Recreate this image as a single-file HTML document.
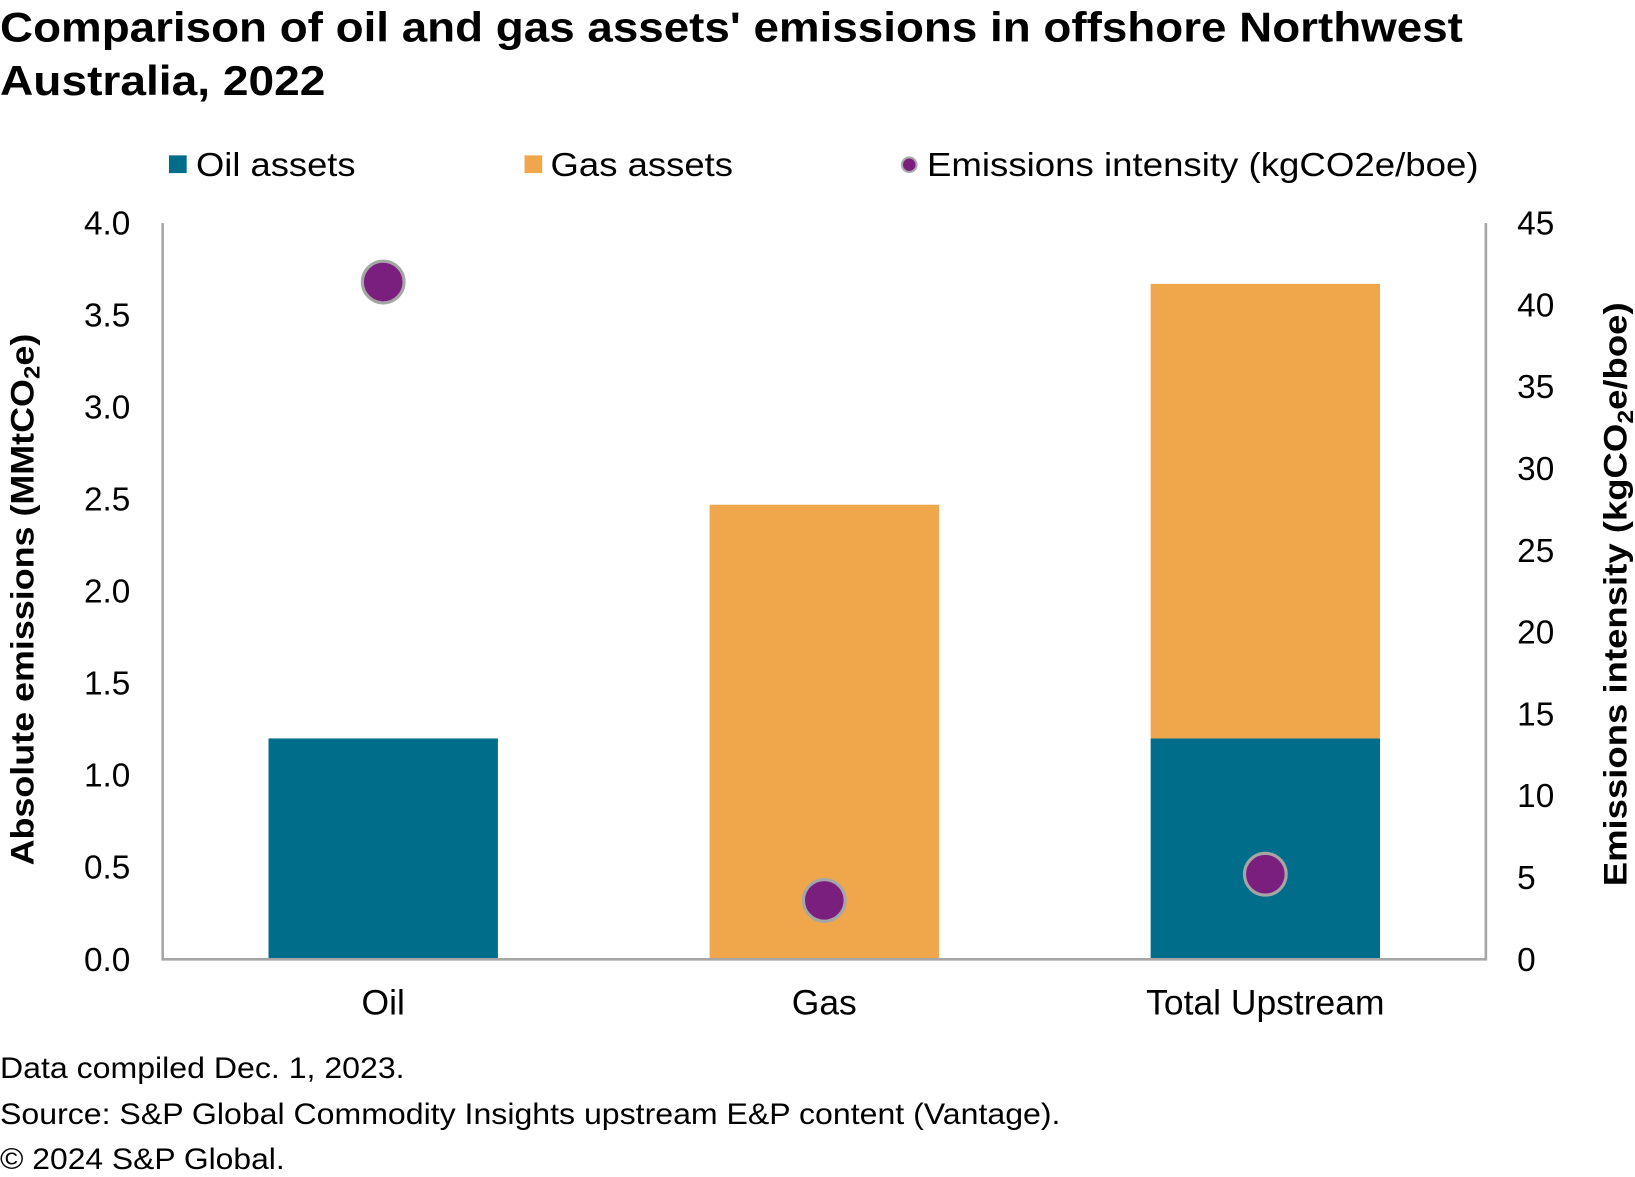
<!DOCTYPE html>
<html><head><meta charset="utf-8"><style>
html,body{margin:0;padding:0;background:#fff;}
svg{display:block;font-family:"Liberation Sans",Arial,sans-serif;}
</style></head><body>
<svg id="chart" width="1635" height="1177" viewBox="0 0 1568 1128.8" xmlns="http://www.w3.org/2000/svg">
<text x="0" y="40" font-size="40" font-weight="bold" fill="#000" textLength="1403" lengthAdjust="spacingAndGlyphs">Comparison of oil and gas assets' emissions in offshore Northwest</text>
<text x="0" y="91" font-size="40" font-weight="bold" fill="#000" textLength="312" lengthAdjust="spacingAndGlyphs">Australia, 2022</text>
<g font-size="32">
  <rect x="162" y="149" width="17" height="17" fill="#006E8A"/>
  <text x="188" y="169" textLength="153" lengthAdjust="spacingAndGlyphs">Oil assets</text>
  <rect x="503" y="149" width="17" height="17" fill="#F0A74C"/>
  <text x="528" y="169" textLength="175" lengthAdjust="spacingAndGlyphs">Gas assets</text>
  <circle cx="872" cy="158" r="7" fill="#7B1F7F" stroke="#aaa" stroke-width="2"/>
  <text x="889" y="169" textLength="529" lengthAdjust="spacingAndGlyphs">Emissions intensity (kgCO2e/boe)</text>
</g>
<g id="plot"></g>
<text transform="translate(32,575) rotate(-90)" text-anchor="middle" font-size="31" font-weight="bold" textLength="510" lengthAdjust="spacingAndGlyphs">Absolute emissions (MMtCO<tspan font-size="21" dy="6">2</tspan><tspan dy="-6">e)</tspan></text>
<text transform="translate(1560,570) rotate(-90)" text-anchor="middle" font-size="31" font-weight="bold" textLength="560" lengthAdjust="spacingAndGlyphs">Emissions intensity (kgCO<tspan font-size="21" dy="6">2</tspan><tspan dy="-6">e/boe)</tspan></text>
<g font-size="28" fill="#000">
<text x="0" y="1034" textLength="388" lengthAdjust="spacingAndGlyphs">Data compiled Dec. 1, 2023.</text>
<text x="0" y="1078" textLength="1017" lengthAdjust="spacingAndGlyphs">Source: S&amp;P Global Commodity Insights upstream E&amp;P content (Vantage).</text>
<text x="0" y="1121" textLength="273" lengthAdjust="spacingAndGlyphs">© 2024 S&amp;P Global.</text>
</g>
</svg>
<script>
const categories = ["Oil", "Gas", "Total Upstream"];
const oilValues = [1.2, 0, 1.2];
const gasValues = [0, 2.47, 2.47];
const intensityValues = [41.4, 3.6, 5.2];
const leftTicks = ["0.0","0.5","1.0","1.5","2.0","2.5","3.0","3.5","4.0"];
const rightTicks = ["0","5","10","15","20","25","30","35","40","45"];

const NS = "http://www.w3.org/2000/svg";
const g = document.getElementById("plot");
const L = 156, R = 1425, T = 214, B = 920;
const yL = v => B - v / 4.0 * (B - T);
const yR = v => B - v / 45 * (B - T);
const bandW = (R - L) / categories.length;
const xC = i => L + bandW * (i + 0.5);
const barW = 220;
function mk(tag, attrs) { const e = document.createElementNS(NS, tag); for (const k in attrs) e.setAttribute(k, attrs[k]); g.appendChild(e); return e; }

leftTicks.forEach(t => {
  const e = mk("text", {x: 125, y: yL(parseFloat(t)) + 11, "text-anchor": "end", "font-size": 32});
  
  
  e.textContent = t;
});
rightTicks.forEach(t => {
  const e = mk("text", {x: 1455, y: yR(parseFloat(t)) + 11, "font-size": 32});
  
  
  e.textContent = t;
});
categories.forEach((c, i) => {
  const x = xC(i) - barW / 2;
  if (oilValues[i] > 0) {
    const r = mk("rect", {x: x, y: yL(oilValues[i]), width: barW, height: B - yL(oilValues[i]), fill: "#006E8A"});
    
    
  }
  if (gasValues[i] > 0) {
    const base = oilValues[i];
    const r = mk("rect", {x: x, y: yL(base + gasValues[i]), width: barW, height: yL(base) - yL(base + gasValues[i]), fill: "#F0A74C"});
    
    
  }
  const lab = mk("text", {x: xC(i), y: 973, "text-anchor": "middle", "font-size": 34});
  
  
  lab.textContent = c;
});
const ax = mk("path", {d: `M${L},${T} V${B} H${R} V${T}`, fill: "none", stroke: "#a6a6a6", "stroke-width": 2.5});


intensityValues.forEach((v, i) => {
  const c = mk("circle", {cx: xC(i), cy: yR(v), r: 20, fill: "#7B1F7F", stroke: "#a6a6a6", "stroke-width": 3});
  
  
});
</script>
</body></html>
